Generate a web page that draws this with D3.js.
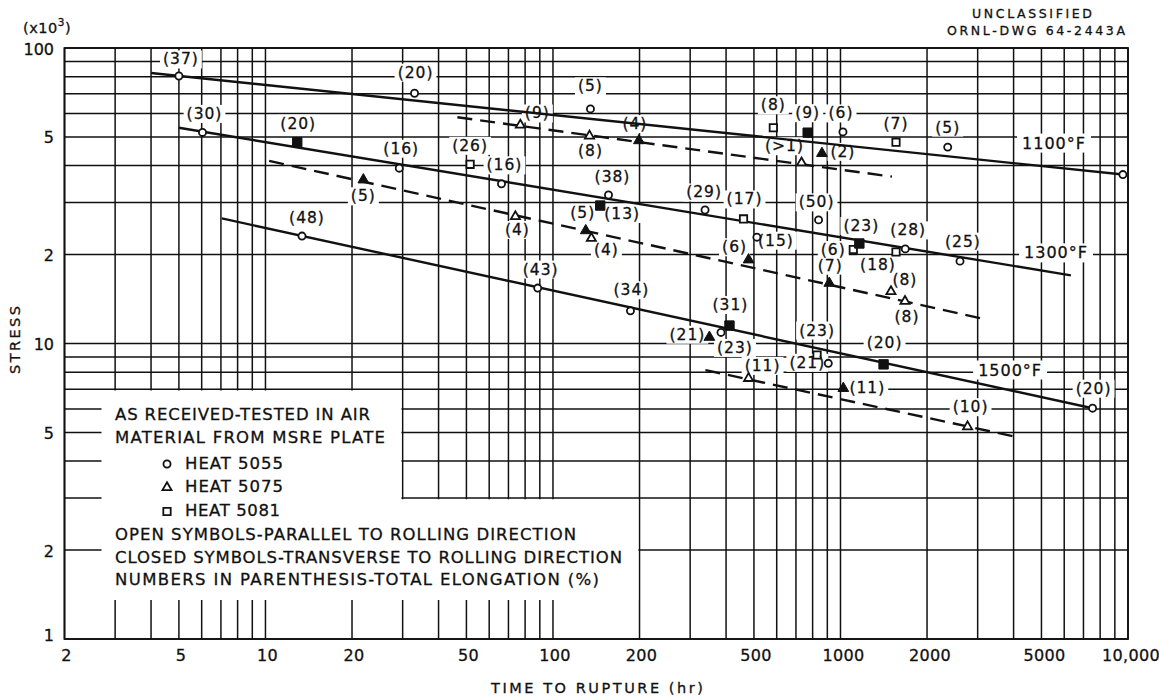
<!DOCTYPE html>
<html>
<head>
<meta charset="utf-8">
<script src="https://cdn.jsdelivr.net/npm/d3@7"></script>
<style>
  html, body { margin: 0; padding: 0; background: #fff; }
  svg { display: block; }
  text { font-family: "DejaVu Sans", sans-serif; fill: #111; stroke: #111; stroke-width: 0.3; }
</style>
</head>
<body>
<svg id="chart" width="1159" height="696"></svg>
<script>
// Time-to-rupture axis (hr)
const timeTicks = [2, 5, 10, 20, 50, 100, 200, 500, 1000, 2000, 5000, 10000];
const timeTickLabels = ["2", "5", "10", "20", "50", "100", "200", "500", "1000", "2000", "5000", "10,000"];
// Stress axis (1000 psi)
const stressTicks = [1, 2, 5, 10, 20, 50, 100];
const stressTickLabels = ["1", "2", "5", "10", "2", "5", "100"];

// Rupture tests: [time (hr), stress (1000 psi), heat, transverse specimen, total elongation (%)]
const points1100 = [
  [5, 80.4, 5055, false, "37"],
  [33, 70.3, 5055, false, "20"],
  [135, 62.2, 5055, false, "5"],
  [584, 53.7, 5081, false, "8"],
  [769, 51.7, 5081, true, "9"],
  [1020, 52.0, 5055, false, "6"],
  [1560, 48.0, 5081, false, "7"],
  [2360, 46.2, 5055, false, "5"],
  [9600, 37.3, 5055, false, ""],
  [77, 54.9, 5075, false, "9"],
  [134, 50.4, 5075, false, "8"],
  [199, 48.6, 5075, true, "4"],
  [732, 40.9, 5075, false, ">1"],
  [862, 44.0, 5075, true, "2"]
];
const points1300 = [
  [6.04, 51.8, 5055, false, "30"],
  [12.9, 48.0, 5081, true, "20"],
  [29.2, 39.2, 5055, false, "16"],
  [51.5, 40.4, 5081, false, "26"],
  [66.2, 34.7, 5055, false, "16"],
  [156, 31.8, 5055, false, "38"],
  [146, 29.3, 5081, true, "13"],
  [338, 28.3, 5055, false, "29"],
  [460, 26.4, 5081, false, "17"],
  [512, 22.9, 5055, false, "15"],
  [839, 26.2, 5055, false, "50"],
  [1108, 20.8, 5081, false, "6"],
  [1163, 21.8, 5081, true, "23"],
  [1560, 20.4, 5081, false, "18"],
  [1680, 20.9, 5055, false, "28"],
  [2604, 19.0, 5055, false, "25"],
  [21.9, 35.8, 5075, true, "5"],
  [74, 26.9, 5075, false, "4"],
  [130, 24.1, 5075, true, "5"],
  [136, 22.7, 5075, false, "4"],
  [479, 19.2, 5075, true, "6"],
  [914, 16.0, 5075, true, "7"],
  [1498, 15.0, 5075, false, "8"],
  [1676, 13.9, 5075, false, "8"]
];
const points1500 = [
  [13.4, 23.1, 5055, false, "48"],
  [88.5, 15.4, 5055, false, "43"],
  [186, 12.9, 5055, false, "34"],
  [411, 11.5, 5081, true, "31"],
  [384, 10.9, 5055, false, "23"],
  [350, 10.5, 5075, true, "21"],
  [829, 9.14, 5081, false, "23"],
  [907, 8.57, 5055, false, "21"],
  [1412, 8.5, 5081, true, "20"],
  [7530, 6.04, 5055, false, "20"],
  [479, 7.62, 5075, false, "11"],
  [1023, 7.05, 5075, true, "11"],
  [2767, 5.23, 5075, false, "10"]
];

// Fitted rupture curves: [time (hr), stress (1000 psi)] end points
const fit1100 = [[4.0, 82.3], [9600, 37.3]];
const fit1100Dashed = [[46.5, 58.3], [1510, 36.7]];
const fit1300 = [[5.0, 53.7], [6330, 17.0]];
const fit1300Dashed = [[10.3, 41.5], [3204, 12.07]];
const fit1500 = [[7.05, 26.5], [7527, 6.04]];
const fit1500Dashed = [[339, 8.13], [4129, 4.82]];

const temperatures = ["1100°F", "1300°F", "1500°F"];

// Label placement (pixel offsets from the marker), same order as the point arrays
const labelOffsets1100 = [[2,-16],[1,-20],[0,-22],[0,-22],[0,-19],[-2,-18],[0,-18],[0,-19],[0,0],[17,-11],[1,16],[-4,-16],[-17,-16],[21,-1]];
const labelOffsets1300 = [[2,-18],[1,-18],[2,-19],[0,-18],[3,-18],[4,-18],[22,9],[-1,-17],[1,-19],[19,4],[-2,-17],[-20,1],[2,-17],[-18,13],[3,-18],[3,-19],
                          [0,17],[2,14],[-3,-17],[15,12],[-14,-12],[1,-17],[14,-11],[2,16]];
const labelOffsets1500 = [[5,-18],[3,-18],[1,-20],[1,-20],[14,16],[-22,-2],[0,-24],[-21,0],[1,-21],[1,-19],[14,-12],[24,0],[3,-19]];
// Temperature captions, anchored in data coordinates
const temperatureAnchors = [[5530, 47.3], [5620, 20.1], [3890, 8.07]];

const legendLines = [
  "AS RECEIVED-TESTED IN AIR",
  "MATERIAL FROM MSRE PLATE",
  "HEAT 5055",
  "HEAT 5075",
  "HEAT 5081",
  "OPEN SYMBOLS-PARALLEL TO ROLLING DIRECTION",
  "CLOSED SYMBOLS-TRANSVERSE TO ROLLING DIRECTION",
  "NUMBERS IN PARENTHESIS-TOTAL ELONGATION (%)"
];

const svg = d3.select("#chart");
const ink = "#111";

const x = d3.scaleLog().domain([2, 10000]).range([64.5, 1128]);
const y = d3.scaleLog().domain([1, 100]).range([639, 48]);

// Log-paper grid: every integer multiple in each decade
const xGrid = [];
[1, 10, 100, 1000].forEach(d => { for (let k = 1; k <= 10; k++) { const v = k * d; if (v >= 2 && v <= 10000 && !xGrid.includes(v)) xGrid.push(v); } });
const yGrid = [];
[1, 10].forEach(d => { for (let k = 1; k <= 10; k++) { const v = k * d; if (!yGrid.includes(v)) yGrid.push(v); } });

const gGrid = svg.append("g").attr("stroke", ink).attr("stroke-width", 1.5);
gGrid.selectAll("line.v").data(xGrid).join("line")
  .attr("x1", d => x(d)).attr("x2", d => x(d))
  .attr("y1", y(100)).attr("y2", y(1));
gGrid.selectAll("line.h").data(yGrid).join("line")
  .attr("x1", x(2)).attr("x2", x(10000))
  .attr("y1", d => y(d)).attr("y2", d => y(d));

// White panel that holds the key
const gWhite = svg.append("g");
const kx0 = x(2) + 37, kyTop = y(7) + 1.2, kxMid = x(30) - 1.2, kyMid = y(3) + 1.2, kxRight = x(200) - 1.2, kyBot = 600;
gWhite.append("path")
  .attr("d", `M${kx0},${kyTop}H${kxMid}V${kyMid}H${kxRight}V${kyBot}H${kx0}Z`)
  .attr("fill", "#fff");

// Axes
const gAxes = svg.append("g");
gAxes.selectAll("text.xt").data(timeTicks).join("text")
  .attr("x", d => x(d) + (d >= 1000 ? 3 : 2)).attr("y", 656)
  .attr("text-anchor", "middle").attr("dominant-baseline", "middle")
  .attr("font-size", 16).attr("letter-spacing", 0.3)
  .text((d, i) => timeTickLabels[i]);
gAxes.selectAll("text.yt").data(stressTicks).join("text")
  .attr("x", 54).attr("y", d => y(d) + (d === 1 ? -3 : 2))
  .attr("text-anchor", "end").attr("dominant-baseline", "middle")
  .attr("font-size", 16)
  .text((d, i) => stressTickLabels[i]);

gAxes.append("text").attr("x", 597).attr("y", 689)
  .attr("text-anchor", "middle").attr("dominant-baseline", "middle")
  .attr("font-size", 14.5).attr("textLength", 212).attr("lengthAdjust", "spacing")
  .text("TIME TO RUPTURE  (hr)");
gAxes.append("text").attr("transform", "translate(16,340) rotate(-90)")
  .attr("text-anchor", "middle").attr("dominant-baseline", "middle")
  .attr("font-size", 14.5).attr("textLength", 68).attr("lengthAdjust", "spacing")
  .text("STRESS");
const unit = gAxes.append("text").attr("x", 23).attr("y", 29)
  .attr("dominant-baseline", "middle").attr("font-size", 14.5).attr("letter-spacing", 0.5);
unit.append("tspan").text("(x10");
unit.append("tspan").attr("font-size", 10.5).attr("dy", -6).text("3");
unit.append("tspan").attr("dy", 6).text(")");

gAxes.append("text").attr("x", 1032).attr("y", 14)
  .attr("text-anchor", "middle").attr("dominant-baseline", "middle")
  .attr("font-size", 12.5).attr("textLength", 120).attr("lengthAdjust", "spacing")
  .text("UNCLASSIFIED");
gAxes.append("text").attr("x", 1036).attr("y", 31)
  .attr("text-anchor", "middle").attr("dominant-baseline", "middle")
  .attr("font-size", 12.5).attr("textLength", 178).attr("lengthAdjust", "spacing")
  .text("ORNL-DWG 64-2443A");

// Layers: white knock-outs sit under the curves, labels on top
const gKnock = svg.append("g");
const gCurves = svg.append("g");
const gMarks = svg.append("g");
const gLabels = svg.append("g");

function knockOut(sel, padX, padY) {
  sel.each(function () {
    const b = this.getBBox();
    gKnock.append("rect")
      .attr("x", b.x - padX).attr("y", b.y - padY)
      .attr("width", b.width + 2 * padX).attr("height", b.height + 2 * padY)
      .attr("fill", "#fff");
  });
}

const line = d3.line().x(d => x(d[0])).y(d => y(d[1]));
const curves = [
  [fit1100, false], [fit1100Dashed, true],
  [fit1300, false], [fit1300Dashed, true],
  [fit1500, false], [fit1500Dashed, true]
];
curves.forEach(([pts, dashed]) => {
  gCurves.append("path").attr("d", line(pts))
    .attr("fill", "none").attr("stroke", ink).attr("stroke-width", 2.4)
    .attr("stroke-dasharray", dashed ? "15,8" : null);
});

const shapeFor = { 5055: d3.symbolCircle, 5075: d3.symbolTriangle, 5081: d3.symbolSquare };
function symbolSize(heat, closed) {
  if (heat === 5055) return 40;
  if (heat === 5075) return closed ? 50 : 36;
  return closed ? 88 : 54;
}

function drawSeries(points, offsets) {
  points.forEach((p, i) => {
    const [t, s, heat, closed, elong] = p;
    const px = x(t), py = y(s);
    gMarks.append("path")
      .attr("transform", `translate(${px},${py})`)
      .attr("d", d3.symbol(shapeFor[heat], symbolSize(heat, closed))())
      .attr("fill", closed ? ink : "#fff")
      .attr("stroke", ink).attr("stroke-width", closed ? 1 : 1.8);
    if (elong) {
      const [dx, dy] = offsets[i];
      const lab = gLabels.append("text")
        .attr("x", px + dx).attr("y", py + dy)
        .attr("text-anchor", "middle").attr("dominant-baseline", "middle")
        .attr("font-size", 15.5).attr("letter-spacing", 1)
        .text(`(${elong})`);
      knockOut(lab, 3, 0);
    }
  });
}
drawSeries(points1100, labelOffsets1100);
drawSeries(points1300, labelOffsets1300);
drawSeries(points1500, labelOffsets1500);

temperatures.forEach((tLabel, i) => {
  const [t, s] = temperatureAnchors[i];
  const lab = gLabels.append("text")
    .attr("x", x(t)).attr("y", y(s))
    .attr("text-anchor", "middle").attr("dominant-baseline", "middle")
    .attr("font-size", 16).attr("letter-spacing", 1)
    .text(tLabel);
  knockOut(lab, 5, 0);
});

// Key text
const keyX = 115;
const keyRows = [415, 438, 464, 487.5, 511.5, 535, 558, 580];
const keyWidths = [255, 270, 98, 98, 95, 461, 507, 484];
const gKey = svg.append("g");
legendLines.forEach((txt, i) => {
  const isHeat = i >= 2 && i <= 4;
  gKey.append("text")
    .attr("x", isHeat ? 185 : keyX).attr("y", keyRows[i])
    .attr("dominant-baseline", "middle")
    .attr("font-size", 16.5)
    .attr("textLength", keyWidths[i]).attr("lengthAdjust", "spacing")
    .text(txt);
});
[5055, 5075, 5081].forEach((heat, i) => {
  gKey.append("path")
    .attr("transform", `translate(167,${keyRows[i + 2]})`)
    .attr("d", d3.symbol(shapeFor[heat], symbolSize(heat, false))())
    .attr("fill", "#fff").attr("stroke", ink).attr("stroke-width", 1.8);
});

// Plot frame
svg.append("rect")
  .attr("x", x(2)).attr("y", y(100))
  .attr("width", x(10000) - x(2)).attr("height", y(1) - y(100))
  .attr("fill", "none").attr("stroke", ink).attr("stroke-width", 1.8);
</script>
</body>
</html>
